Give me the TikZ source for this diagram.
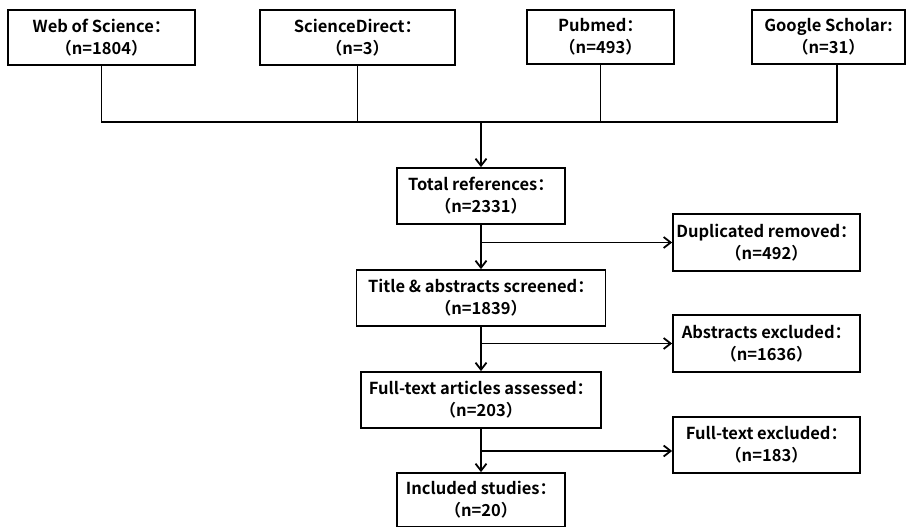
\documentclass[tikz,border=0pt]{standalone}
\usepackage{fontspec}
\setmainfont{Noto Sans CJK SC}[UprightFont={* Bold},BoldFont={* Black}]
\usetikzlibrary{arrows.meta}
\begin{document}
\begin{tikzpicture}[x=1pt,y=-1pt,>={Straight Barb[length=7pt,width=11pt]},line width=1.8pt,
  box/.style={draw,align=center,inner sep=0pt,font=\fontsize{16.5}{22}\selectfont}]
\useasboundingbox (0,0) rectangle (906,527);
\node[box,minimum width=187pt,minimum height=55pt] (wos) at (101.5,37.5) {Web of Science：\\（n=1804）};
\node[box,minimum width=195pt,minimum height=55pt] (sd) at (357.5,37.5) {ScienceDirect：\\（n=3）};
\node[box,minimum width=147pt,minimum height=54pt] (pm) at (600.5,37) {Pubmed：\\（n=493）};
\node[box,minimum width=153pt,minimum height=54pt] (gs) at (828.5,37) {Google Scholar:\\（n=31）};
\node[box,minimum width=168pt,minimum height=56pt] (tot) at (481,196) {Total references：\\（n=2331）};
\node[box,minimum width=249pt,minimum height=56pt] (tas) at (481,298) {Title \& abstracts screened：\\（n=1839）};
\node[box,minimum width=240pt,minimum height=56pt] (fta) at (481,400) {Full-text articles assessed：\\（n=203）};
\node[box,minimum width=168pt,minimum height=54pt] (inc) at (481,500) {Included studies：\\（n=20）};
\node[box,minimum width=187pt,minimum height=57pt] (dup) at (766.5,242.5) {Duplicated removed：\\（n=492）};
\node[box,minimum width=187pt,minimum height=57pt] (abx) at (766.5,343.5) {Abstracts excluded：\\（n=1636）};
\node[box,minimum width=187pt,minimum height=56pt] (ftx) at (766.5,445) {Full-text excluded：\\（n=183）};
\coordinate (bl) at (101.5,122);
\coordinate (br) at (837,122);
\coordinate (bm) at (481,122);
\coordinate (b3) at (481,451);
\draw (wos.south) -- (bl) -- (br) -- (br |- gs.south);
\draw (sd.south) -- (sd.south |- bl);
\draw (pm.south) -- (pm.south |- bl);
\draw[->] (bm) -- (tot.north);
\draw[->] (tot.south) -- (tas.north);
\draw[->] (tas.south) -- (fta.north);
\draw[->] (fta.south) -- (inc.north);
\draw[->] (tot.south |- dup.west) -- (dup.west);
\draw[->] (tas.south |- abx.west) -- (abx.west);
\draw[->] (b3) -- (b3 -| ftx.west);
\end{tikzpicture}
\end{document}
